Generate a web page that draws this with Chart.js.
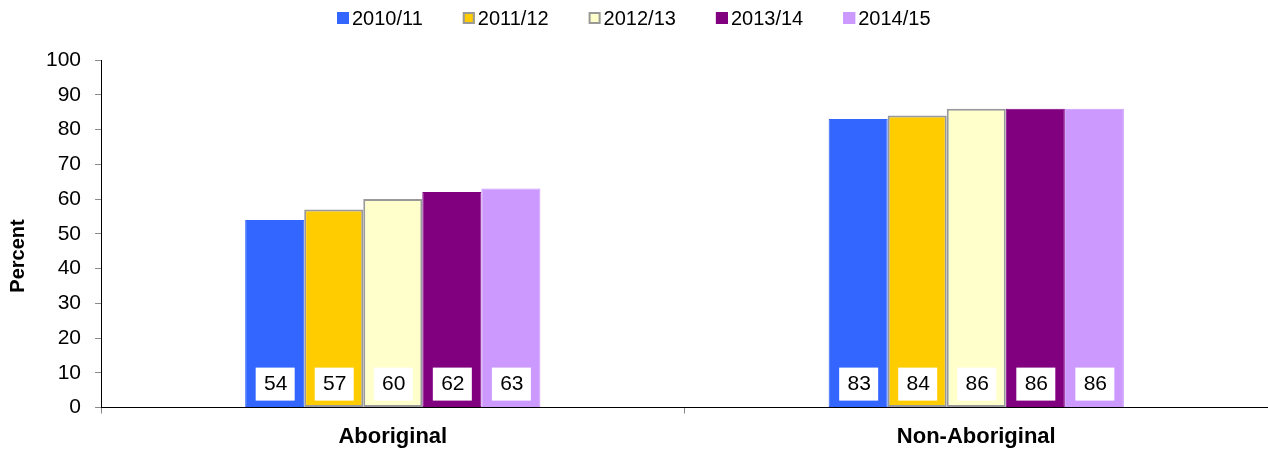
<!DOCTYPE html>
<html lang="en">
<head>
    <meta charset="UTF-8">
    <title>Percent by year</title>
    <script src="https://cdn.jsdelivr.net/npm/chart.js"></script>
    <style>
        body {
            margin: 0;
            padding: 0;
            background: white;
        }
        .chart-container {
            width: 1268px;
            height: 450px;
        }
    </style>
</head>
<body>
    <div class="chart-container">
        <canvas id="percentChart" width="1268" height="450"></canvas>
    </div>

    <script>
        const categories = ['Aboriginal', 'Non-Aboriginal'];
        const years = ['2010/11', '2011/12', '2012/13', '2013/14', '2014/15'];
        const values2010 = [54, 83];
        const values2011 = [57, 84];
        const values2012 = [60, 86];
        const values2013 = [62, 86];
        const values2014 = [63, 86];
        const yTicks = [0, 10, 20, 30, 40, 50, 60, 70, 80, 90, 100];

        const FONT = '"Liberation Sans", Arial, sans-serif';

        const fills = ['#3366ff', '#ffcc00', '#ffffcc', '#800080', '#cc99ff'];
        const borders = ['#3366ff', '#999999', '#999999', '#800080', '#cc99ff'];
        const seriesValues = [values2010, values2011, values2012, values2013, values2014];

        const datasets = years.map((year, i) => ({
            label: year,
            data: seriesValues[i],
            backgroundColor: fills[i],
            borderColor: borders[i],
            borderWidth: i === 1 || i === 2 ? 2 : 1,
            borderSkipped: false,
            categoryPercentage: 0.506,
            barPercentage: 1.0
        }));

        // white value boxes sitting near the bottom of each bar
        const valueBoxes = {
            id: 'valueBoxes',
            afterDatasetsDraw(chart) {
                const ctx = chart.ctx;
                const base = chart.scales.y.getPixelForValue(0);
                ctx.save();
                ctx.font = '21px ' + FONT;
                ctx.textAlign = 'center';
                ctx.textBaseline = 'middle';
                chart.data.datasets.forEach((ds, i) => {
                    chart.getDatasetMeta(i).data.forEach((bar, j) => {
                        const cy = base - 24;
                        ctx.fillStyle = '#ffffff';
                        ctx.fillRect(bar.x - 19, cy - 16, 39, 33);
                        ctx.fillStyle = '#000000';
                        ctx.fillText(String(ds.data[j]), bar.x + 1, cy + 1);
                    });
                });
                ctx.restore();
            }
        };

        // legend row across the top and the rotated axis title
        const legendAndTitle = {
            id: 'legendAndTitle',
            afterDraw(chart) {
                const ctx = chart.ctx;
                ctx.save();
                ctx.font = '20px ' + FONT;
                ctx.textBaseline = 'middle';
                ctx.textAlign = 'left';
                const box = 12, gap = 3, spacing = 40;
                const widths = chart.data.datasets.map(ds => box + gap + ctx.measureText(ds.label).width);
                const total = widths.reduce((a, b) => a + b, 0) + spacing * (widths.length - 1);
                let x = Math.round((chart.width - total) / 2);
                chart.data.datasets.forEach((ds, i) => {
                    ctx.fillStyle = ds.backgroundColor;
                    ctx.fillRect(x, 12, box, box);
                    ctx.strokeStyle = ds.borderColor;
                    ctx.lineWidth = ds.borderWidth;
                    ctx.strokeRect(x + ds.borderWidth / 2, 12 + ds.borderWidth / 2, box - ds.borderWidth, box - ds.borderWidth);
                    ctx.fillStyle = '#000000';
                    ctx.fillText(ds.label, x + box + gap, 19);
                    x += widths[i] + spacing;
                });

                ctx.font = 'bold 20px ' + FONT;
                ctx.textAlign = 'center';
                ctx.translate(18, 256);
                ctx.rotate(-Math.PI / 2);
                ctx.fillText('Percent', 0, 0);
                ctx.restore();
            }
        };

        new Chart(document.getElementById('percentChart'), {
            type: 'bar',
            data: {
                labels: categories,
                datasets: datasets
            },
            options: {
                responsive: false,
                animation: false,
                layout: {
                    padding: { top: 60, left: 32, right: 0, bottom: -10 }
                },
                plugins: {
                    legend: { display: false },
                    tooltip: { enabled: false }
                },
                scales: {
                    x: {
                        grid: {
                            offset: true,
                            drawOnChartArea: false,
                            tickLength: 6,
                            color: '#888888'
                        },
                        border: { color: '#000000', width: 1 },
                        ticks: {
                            color: '#000000',
                            padding: 10,
                            font: { family: FONT, size: 22, weight: 'bold' }
                        }
                    },
                    y: {
                        min: 0,
                        max: 100,
                        afterBuildTicks(scale) {
                            scale.ticks = yTicks.map(v => ({ value: v }));
                        },
                        grid: {
                            drawOnChartArea: false,
                            tickLength: 6,
                            color: '#888888'
                        },
                        border: { color: '#000000', width: 1 },
                        ticks: {
                            color: '#000000',
                            padding: 14,
                            font: { family: FONT, size: 21 }
                        }
                    }
                }
            },
            plugins: [valueBoxes, legendAndTitle]
        });
    </script>
</body>
</html>
